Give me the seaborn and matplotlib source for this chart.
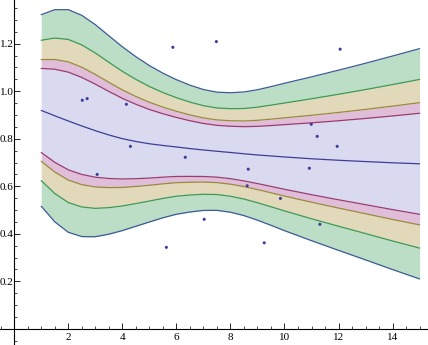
import matplotlib
matplotlib.use("Agg")
import matplotlib.pyplot as plt
import seaborn as sns
import pandas as pd
from matplotlib.ticker import MultipleLocator

# ---- data ----
x_grid = [1, 1.5, 2, 2.5, 3, 3.5, 4, 4.5, 5, 5.5, 6, 6.5, 7, 7.5, 8, 8.5, 9, 9.5,
          10, 11, 12, 13, 14, 15]
fit_center = [0.9192, 0.8968, 0.8749, 0.8539, 0.8341, 0.8160, 0.8004, 0.7886, 0.7789,
              0.7718, 0.7655, 0.7587, 0.7528, 0.7474, 0.7423, 0.7368, 0.7318, 0.7276,
              0.7234, 0.7158, 0.7095, 0.7040, 0.6989, 0.6947]
upper_90 = [1.0960, 1.0926, 1.0804, 1.0581, 1.0299, 0.9992, 0.9701, 0.9452, 0.9233,
            0.9053, 0.8897, 0.8758, 0.8644, 0.8565, 0.8526, 0.8509, 0.8522, 0.8556,
            0.8594, 0.8670, 0.8758, 0.8855, 0.8960, 0.9073]
upper_95 = [1.1331, 1.1337, 1.1236, 1.1010, 1.0710, 1.0377, 1.0057, 0.9781, 0.9536,
            0.9333, 0.9158, 0.9004, 0.8878, 0.8794, 0.8758, 0.8749, 0.8775, 0.8825,
            0.8880, 0.8988, 0.9107, 0.9236, 0.9374, 0.9519]
upper_99 = [1.2145, 1.2238, 1.2181, 1.1949, 1.1611, 1.1219, 1.0838, 1.0501, 1.0200,
            0.9947, 0.9729, 0.9543, 0.9392, 0.9296, 0.9265, 0.9273, 0.9329, 0.9414,
            0.9505, 0.9683, 0.9872, 1.0071, 1.0281, 1.0497]
upper_999 = [1.3223, 1.3432, 1.3434, 1.3195, 1.2805, 1.2337, 1.1873, 1.1456, 1.1081,
             1.0762, 1.0487, 1.0257, 1.0072, 0.9961, 0.9938, 0.9969, 1.0063, 1.0194,
             1.0335, 1.0605, 1.0887, 1.1178, 1.1483, 1.1794]
lower_90 = [0.7424, 0.7010, 0.6694, 0.6497, 0.6383, 0.6328, 0.6307, 0.6320, 0.6345,
            0.6383, 0.6413, 0.6416, 0.6412, 0.6383, 0.6320, 0.6227, 0.6114, 0.5996,
            0.5874, 0.5646, 0.5432, 0.5225, 0.5018, 0.4821]
lower_95 = [0.7053, 0.6599, 0.6262, 0.6068, 0.5972, 0.5943, 0.5951, 0.5991, 0.6042,
            0.6103, 0.6152, 0.6170, 0.6178, 0.6154, 0.6088, 0.5987, 0.5861, 0.5727,
            0.5588, 0.5328, 0.5083, 0.4844, 0.4604, 0.4375]
lower_99 = [0.6239, 0.5698, 0.5317, 0.5129, 0.5071, 0.5101, 0.5170, 0.5271, 0.5378,
            0.5489, 0.5581, 0.5631, 0.5664, 0.5652, 0.5581, 0.5463, 0.5307, 0.5138,
            0.4963, 0.4633, 0.4318, 0.4009, 0.3697, 0.3397]
lower_999 = [0.5161, 0.4504, 0.4064, 0.3883, 0.3877, 0.3983, 0.4135, 0.4316, 0.4497,
             0.4674, 0.4823, 0.4917, 0.4984, 0.4987, 0.4908, 0.4767, 0.4573, 0.4358,
             0.4133, 0.3711, 0.3303, 0.2902, 0.2495, 0.2100]

points_x = [2.52, 2.70, 4.15, 4.30, 5.87, 6.33, 7.48, 12.06, 10.99, 11.21,
            11.95, 8.66, 10.92, 3.07, 5.63, 7.03, 8.62, 9.85, 11.31, 9.25]
points_y = [0.962, 0.969, 0.945, 0.768, 1.185, 0.722, 1.209, 1.177, 0.861, 0.810,
            0.768, 0.672, 0.676, 0.650, 0.343, 0.461, 0.602, 0.549, 0.440, 0.362]

x_ticks = [2, 4, 6, 8, 10, 12, 14]
x_tick_labels = ["2", "4", "6", "8", "10", "12", "14"]
y_ticks = [0.2, 0.4, 0.6, 0.8, 1.0, 1.2]
y_tick_labels = ["0.2", "0.4", "0.6", "0.8", "1.0", "1.2"]

# ---- styling ----
sns.set_theme(style="white")
plt.rcParams["font.family"] = ["Liberation Serif", "DejaVu Serif"]

c_center = "#3d3d99"
c_90 = "#993d71"
c_95 = "#998b3d"
c_99 = "#3d9954"
c_999 = "#3d5a99"
f_90 = "#d9d9ef"
f_95 = "#e0bdd8"
f_99 = "#e2d9bb"
f_999 = "#bcdec6"

fig = plt.figure(figsize=(4.28, 3.45), dpi=100)
ax = fig.add_axes([0, 0, 1, 1])

bands = pd.DataFrame({
    "x": x_grid, "c": fit_center,
    "u1": upper_90, "u2": upper_95, "u3": upper_99, "u4": upper_999,
    "l1": lower_90, "l2": lower_95, "l3": lower_99, "l4": lower_999,
})

ax.fill_between(bands["x"], bands["l1"], bands["u1"], color=f_90, lw=0, zorder=1)
ax.fill_between(bands["x"], bands["u1"], bands["u2"], color=f_95, lw=0, zorder=1)
ax.fill_between(bands["x"], bands["l2"], bands["l1"], color=f_95, lw=0, zorder=1)
ax.fill_between(bands["x"], bands["u2"], bands["u3"], color=f_99, lw=0, zorder=1)
ax.fill_between(bands["x"], bands["l3"], bands["l2"], color=f_99, lw=0, zorder=1)
ax.fill_between(bands["x"], bands["u3"], bands["u4"], color=f_999, lw=0, zorder=1)
ax.fill_between(bands["x"], bands["l4"], bands["l3"], color=f_999, lw=0, zorder=1)

for col, color in [("u1", c_90), ("l1", c_90), ("u2", c_95), ("l2", c_95),
                   ("u3", c_99), ("l3", c_99), ("u4", c_999), ("l4", c_999),
                   ("c", c_center)]:
    sns.lineplot(data=bands, x="x", y=col, color=color, lw=0.9, ax=ax,
                 sort=False, zorder=2, solid_joinstyle="round",
                 solid_capstyle="round")

pts = pd.DataFrame({"x": points_x, "y": points_y})
sns.scatterplot(data=pts, x="x", y="y", color=c_center, s=5, edgecolor="none",
                ax=ax, zorder=3)

ax.set_xlim(-0.525, 15.31)
ax.set_ylim(-0.068, 1.384)
ax.set_xlabel("")
ax.set_ylabel("")

for s in ["top", "right"]:
    ax.spines[s].set_visible(False)
ax.spines["left"].set_position(("data", 0))
ax.spines["bottom"].set_position(("data", 0))
for s in ["left", "bottom"]:
    ax.spines[s].set_color("black")
    ax.spines[s].set_linewidth(0.8)
    ax.spines[s].set_zorder(4)

ax.set_xticks(x_ticks)
ax.set_xticklabels(x_tick_labels)
ax.set_yticks(y_ticks)
ax.set_yticklabels(y_tick_labels)
ax.xaxis.set_minor_locator(MultipleLocator(0.5))
ax.yaxis.set_minor_locator(MultipleLocator(0.05))
ax.tick_params(axis="both", which="major", direction="in", length=4, width=0.6,
               color="black", labelsize=8, labelcolor="black")
ax.tick_params(axis="both", which="minor", direction="in", length=2, width=0.5,
               color="black")
ax.tick_params(axis="x", which="both", bottom=True, top=False, pad=3)
ax.tick_params(axis="y", which="both", left=True, right=False, pad=0.4)
ax.grid(False)

fig.savefig("out.png", dpi=100)
